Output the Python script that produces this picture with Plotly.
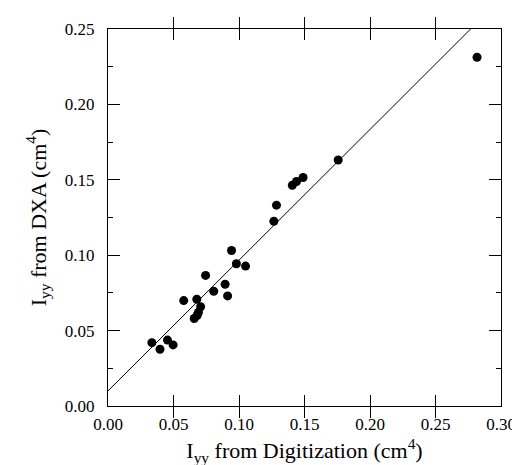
import plotly.graph_objects as go

# Data (Iyy from Digitization vs Iyy from DXA, cm^4)
digitization = [0.0335, 0.0397, 0.0454, 0.0497, 0.0578, 0.0658, 0.0680, 0.0690,
                0.0707, 0.0678, 0.0745, 0.0807, 0.0894, 0.0913, 0.0943, 0.0980,
                0.1050, 0.1266, 0.1286, 0.1407, 0.1439, 0.1489, 0.1757, 0.2817]
dxa = [0.0420, 0.0376, 0.0437, 0.0405, 0.0699, 0.0580, 0.0600, 0.0620,
       0.0658, 0.0708, 0.0866, 0.0761, 0.0807, 0.0730, 0.1031, 0.0943,
       0.0928, 0.1225, 0.1332, 0.1464, 0.1489, 0.1515, 0.1631, 0.2313]

fit_intercept = 0.010
fit_slope = 0.867
x_range = [0.0, 0.30]
y_range = [0.0, 0.25]
x_ticks = [0.00, 0.05, 0.10, 0.15, 0.20, 0.25, 0.30]
y_ticks = [0.00, 0.05, 0.10, 0.15, 0.20, 0.25]

fit_x = list(x_range)
fit_y = [fit_intercept + fit_slope * v for v in fit_x]

FONT = "Liberation Serif"

fig = go.Figure()
fig.add_trace(go.Scatter(x=fit_x, y=fit_y, mode="lines", yaxis="y2",
                         line=dict(color="black", width=1), showlegend=False))
fig.add_trace(go.Scatter(x=digitization, y=dxa, mode="markers",
                         marker=dict(color="black", size=9), showlegend=False,
                         cliponaxis=False))

tickfont = dict(family=FONT, size=17, color="black")
titlefont = dict(family=FONT, size=22, color="black")

fig.update_layout(
    xaxis=dict(range=x_range, tickvals=x_ticks,
               ticktext=[f"{v:.2f}" for v in x_ticks], ticklen=11,
               ticklabelstandoff=2,
               showgrid=False, zeroline=False, showline=True, linecolor="black",
               linewidth=1.2, mirror="allticks", ticks="inside",
               tickcolor="black", tickwidth=1, tickfont=tickfont,
               title=dict(text="I<sub>yy</sub> from Digitization (cm<sup>4</sup>)",
                          font=titlefont, standoff=10)),
    # primary y axis: inside ticks (major + minor), mirrored, no labels
    yaxis=dict(range=y_range, tickvals=y_ticks, ticklen=12, showticklabels=False,
               showgrid=False, zeroline=False, showline=True, linecolor="black",
               linewidth=1.2, mirror="allticks", ticks="inside",
               tickcolor="black", tickwidth=1,
               minor=dict(dtick=0.025, tick0=0, ticks="inside", ticklen=5,
                          tickcolor="black", tickwidth=1, showgrid=False)),
    # overlay y axis: carries the labels and title
    yaxis2=dict(range=y_range, overlaying="y", side="left", tickvals=y_ticks,
                ticktext=[f"{v:.2f}" for v in y_ticks],
                ticks="outside", ticklen=9, tickcolor="rgba(0,0,0,0)",
                showgrid=False, zeroline=False, showline=False, tickfont=tickfont,
                title=dict(text="I<sub>yy</sub> from DXA (cm<sup>4</sup>)",
                           font=titlefont, standoff=12)),
    width=520, height=465, margin=dict(l=100, r=17, t=19, b=67),
    plot_bgcolor="white", paper_bgcolor="white",
)

fig.write_html("out.html")
